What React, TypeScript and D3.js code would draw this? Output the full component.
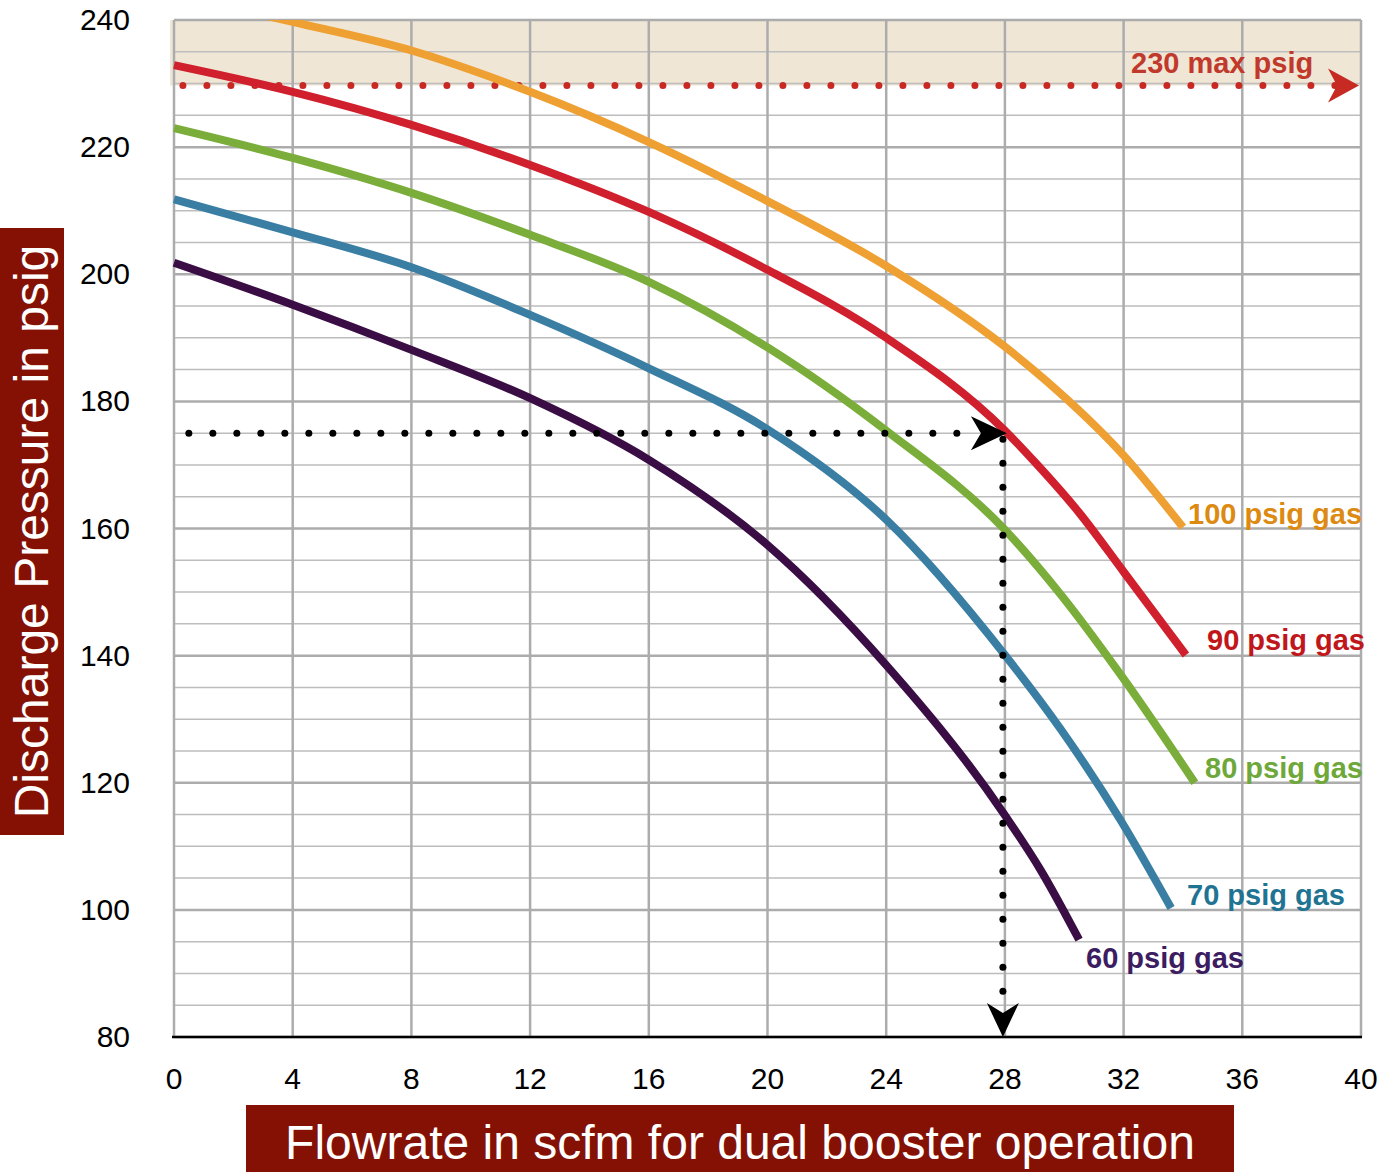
import React from "react";
import * as d3 from "d3";

const xTicks = [0, 4, 8, 12, 16, 20, 24, 28, 32, 36, 40];
const yTicks = [80, 100, 120, 140, 160, 180, 200, 220, 240];

const s100x = [0, 4, 8, 12, 16, 20, 24, 28, 29.35, 32, 34];
const s100y = [244, 239.7, 235.2, 228.7, 220.8, 211.5, 201.3, 188.6, 183.4, 171.5, 160.2];
const s90x = [0, 4, 8, 12, 16, 20, 24, 28, 29, 30.5, 32, 34.1];
const s90y = [232.9, 228.7, 223.5, 217.2, 209.8, 200.7, 190, 175.4, 170.5, 162.5, 153.2, 140.1];
const s80x = [0, 4, 8, 12, 16, 20, 24, 28, 29.9, 31.9, 34.4];
const s80y = [223, 218.3, 212.8, 206.2, 198.8, 188.5, 175.4, 159.8, 149.5, 137, 120];
const s70x = [0, 4, 8, 12, 16, 20, 24, 28, 29.9, 31.9, 33.6];
const s70y = [211.8, 206.6, 201.1, 193.6, 185.2, 175.6, 161.4, 140.1, 128.3, 114.1, 100.3];
const s60x = [0, 4, 8, 12, 16, 20, 24, 28, 29.2, 30.5];
const s60y = [201.8, 195.2, 188.1, 180.5, 170.8, 157.4, 138.5, 114.9, 106.3, 95.3];

const seriesNames = ["100 psig gas", "90 psig gas", "80 psig gas", "70 psig gas", "60 psig gas"];
const seriesX = [s100x, s90x, s80x, s70x, s60x];
const seriesY = [s100y, s90y, s80y, s70y, s60y];
const lineColors = ["#eea033", "#d0202e", "#7aad3a", "#3a7fa3", "#3b0d45"];
const labelColors = ["#dc8a12", "#c0171b", "#6fa83a", "#1f7493", "#3c1d62"];
const labelPos = [
  [1188, 524],
  [1207, 650],
  [1205, 778],
  [1187, 905],
  [1086, 968],
];

const maxPsig = 230;
const opFlow = 28;
const opPressure = 175;

export default function App() {
  const W = 1393;
  const H = 1172;
  const L = 174, R = 1361, T = 20, B = 1037;
  const x = d3.scaleLinear().domain([0, 40]).range([L, R]);
  const y = d3.scaleLinear().domain([80, 240]).range([B, T]);
  const line = d3
    .line<[number, number]>()
    .x((d) => x(d[0]))
    .y((d) => y(d[1]))
    .curve(d3.curveMonotoneX);

  const minor = d3.range(80, 241, 5).filter((v) => v % 20 !== 0);
  const font = "Helvetica, 'Liberation Sans', Arial, sans-serif";

  const dotsH = d3.range(x(0.5), x(opFlow) - 40, 24);
  const dotsV = d3.range(y(opPressure) + 6, y(80) - 30, 24);
  const dotsMax = d3.range(x(0.3), R - 20, 24);
  const yMax = y(maxPsig) + 2;

  return (
    <svg width={W} height={H} style={{ position: "absolute", left: 0, top: 0 }}>
      <defs>
        <clipPath id="plotclip">
          <rect x={L - 10} y={T} width={R - L + 20} height={B - T} />
        </clipPath>
      </defs>
      <rect x={L - 4} y={y(240)} width={R - L + 4} height={yMax - y(240)} fill="#f0e6d6" />
      {minor.map((v) => (
        <line key={"m" + v} x1={L} x2={R} y1={y(v)} y2={y(v)} stroke="#bdbdbd" strokeWidth={1.5} />
      ))}
      {yTicks.map((v) => (
        <line key={"y" + v} x1={L} x2={R} y1={y(v)} y2={y(v)} stroke="#acacac" strokeWidth={2.5} />
      ))}
      {xTicks.map((v) => (
        <line key={"x" + v} x1={x(v)} x2={x(v)} y1={T} y2={B} stroke="#acacac" strokeWidth={2.5} />
      ))}
      <line x1={L - 2} x2={R + 1} y1={B} y2={B} stroke="#000" strokeWidth={2.5} />

      {yTicks.map((v) => (
        <text key={"yl" + v} x={130} y={y(v) + 10} textAnchor="end" fontFamily={font} fontSize={30} fill="#000">
          {v}
        </text>
      ))}
      {xTicks.map((v) => (
        <text key={"xl" + v} x={x(v)} y={1089} textAnchor="middle" fontFamily={font} fontSize={30} fill="#000">
          {v}
        </text>
      ))}

      {/* max psig dotted line */}
      {dotsMax.map((px, i) => (
        <circle key={"dm" + i} cx={px} cy={yMax} r={3.5} fill="#c62a22" />
      ))}
      <path
        d={`M${R - 33},${yMax - 17} L${R - 2},${yMax} L${R - 33},${yMax + 17} L${R - 24},${yMax} Z`}
        fill="#c62a22"
      />
      <text x={1131} y={73} fontFamily={font} fontSize={29} fontWeight="bold" fill="#c0392b">
        230 max psig
      </text>

      <g clipPath="url(#plotclip)">
        {seriesX.map((xs, i) => (
          <path
            key={"s" + i}
            d={line(xs.map((v, j) => [v, seriesY[i][j]]) as [number, number][]) || ""}
            fill="none"
            stroke={lineColors[i]}
            strokeWidth={8}
          />
        ))}
      </g>

      {/* operating point dotted lines */}
      {dotsH.map((px, i) => (
        <circle key={"dh" + i} cx={px} cy={y(opPressure)} r={3.5} fill="#000" />
      ))}
      <path
        d={`M${x(opFlow) - 34},${y(opPressure) - 17} L${x(opFlow) + 2},${y(opPressure)} L${x(opFlow) - 34},${y(opPressure) + 17} L${x(opFlow) - 24},${y(opPressure)} Z`}
        fill="#000"
      />
      {dotsV.map((py, i) => (
        <circle key={"dv" + i} cx={x(opFlow) - 2} cy={py} r={3.5} fill="#000" />
      ))}
      <path
        d={`M${x(opFlow) - 18},${B - 34} L${x(opFlow) - 2},${B} L${x(opFlow) + 14},${B - 34} L${x(opFlow) - 2},${B - 24} Z`}
        fill="#000"
      />

      {seriesNames.map((n, i) => (
        <text
          key={"sl" + i}
          x={labelPos[i][0]}
          y={labelPos[i][1]}
          fontFamily={font}
          fontSize={29}
          fontWeight="bold"
          fill={labelColors[i]}
        >
          {n}
        </text>
      ))}

      {/* axis title boxes */}
      <rect x={0} y={228} width={64} height={607} fill="#851105" />
      <text
        transform={`translate(48, ${(228 + 835) / 2}) rotate(-90)`}
        textAnchor="middle"
        fontFamily={font}
        fontSize={48}
        fill="#fff"
      >
        Discharge Pressure in psig
      </text>
      <rect x={246} y={1105} width={988} height={67} fill="#851105" />
      <text x={740} y={1159} textAnchor="middle" fontFamily={font} fontSize={48} fill="#fff">
        Flowrate in scfm for dual booster operation
      </text>
    </svg>
  );
}
